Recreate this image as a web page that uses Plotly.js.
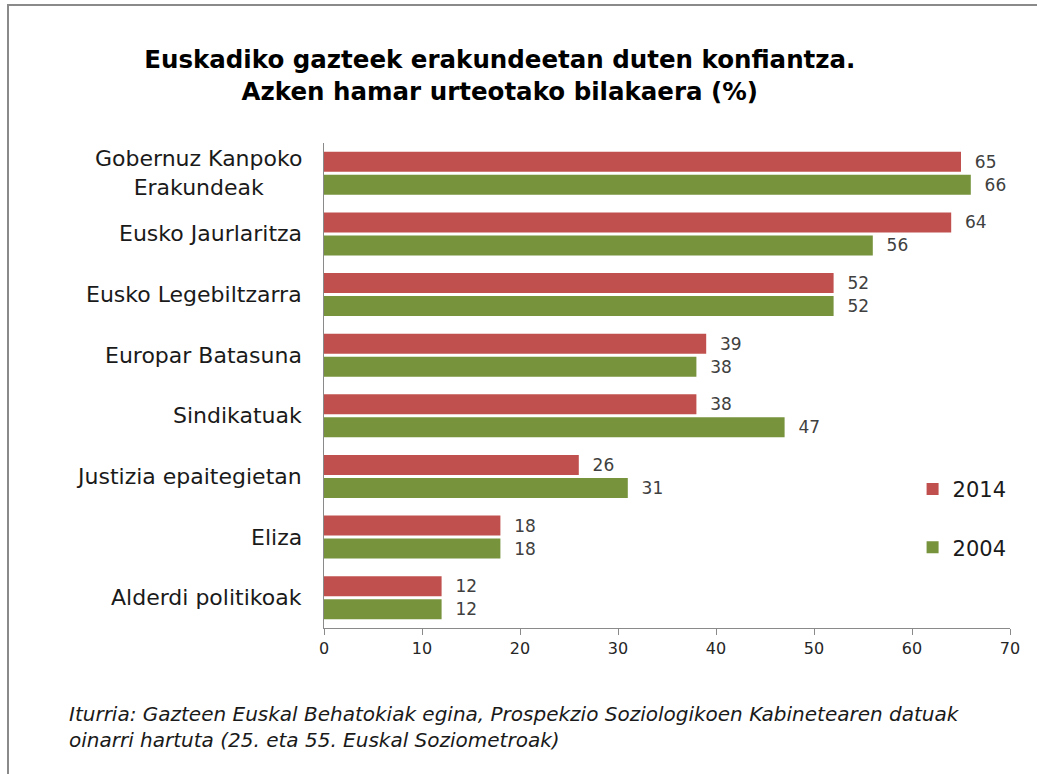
<!DOCTYPE html>
<html>
<head>
<meta charset="utf-8">
<script src="https://cdn.plot.ly/plotly-3.0.1.min.js"></script>
<style>
html,body{margin:0;padding:0;background:#fff;overflow:hidden;}
#chart{width:1037px;height:774px;position:absolute;left:0;top:0;}
#frame{position:absolute;left:7px;top:4px;width:1100px;height:900px;border-top:2px solid #8a8a8a;border-left:2px solid #8a8a8a;pointer-events:none;}
</style>
</head>
<body>
<div id="chart"></div>
<div id="frame"></div>
<script>
var categories = ["Gobernuz Kanpoko<br>Erakundeak","Eusko Jaurlaritza","Eusko Legebiltzarra","Europar Batasuna","Sindikatuak","Justizia epaitegietan","Eliza","Alderdi politikoak"];
var values2014 = [65, 64, 52, 39, 38, 26, 18, 12];
var values2004 = [66, 56, 52, 38, 47, 31, 18, 12];
var seriesNames = ["2014", "2004"];
var xTicks = [0, 10, 20, 30, 40, 50, 60, 70];

var FONT = "DejaVu Sans, Verdana, sans-serif";
var labelFont = {family: FONT, size: 17, color: "#404040"};

var traces = [
  {type: "bar", orientation: "h", name: seriesNames[0], y: categories, x: values2014,
   marker: {color: "#C0504D"}, text: values2014, texttemplate: "\u00a0\u00a0%{x}",
   textposition: "outside", textfont: labelFont, cliponaxis: false, legendgroup: "a",
   hoverinfo: "x+y"},
  {type: "bar", orientation: "h", name: seriesNames[1], y: categories, x: values2004,
   marker: {color: "#77933C"}, text: values2004, texttemplate: "\u00a0\u00a0%{x}",
   textposition: "outside", textfont: labelFont, cliponaxis: false, legendgroup: "b",
   hoverinfo: "x+y"}
];

var annotations = categories.map(function(c){
  return {xref: "paper", yref: "y", x: 0, y: c, text: c, showarrow: false,
          xanchor: "right", xshift: -20, align: "center",
          font: {family: FONT, size: 22, color: "#1a1a1a"}};
});
annotations.push({
  xref: "paper", yref: "paper", x: -0.375, y: -0.148, xanchor: "left", yanchor: "top",
  align: "left", showarrow: false,
  text: "<i>Iturria: Gazteen Euskal Behatokiak egina, Prospekzio Soziologikoen Kabinetearen datuak</i><br><i>oinarri hartuta (25. eta 55. Euskal Soziometroak)</i>",
  font: {family: FONT, size: 20, color: "#1a1a1a"}
});

var layout = {
  width: 1037, height: 774,
  margin: {l: 324, r: 27, t: 143, b: 146},
  paper_bgcolor: "#fff", plot_bgcolor: "#fff",
  barmode: "group", bargap: 0.24, bargroupgap: 0.13,
  showlegend: true,
  title: {
    text: "<b>Euskadiko gazteek erakundeetan duten konfiantza.</b><br><b>Azken hamar urteotako bilakaera (%)</b>",
    font: {family: FONT, size: 24.5, color: "#000"},
    xref: "container", x: 0.482, xanchor: "center",
    yref: "container", y: 1 - 68/774, yanchor: "top"
  },
  xaxis: {
    range: [0, 70], tickvals: xTicks, ticktext: xTicks.map(String),
    showgrid: false, zeroline: false, showline: true, linecolor: "#8a8a8a", linewidth: 1,
    ticks: "outside", ticklen: 6, tickcolor: "#8a8a8a",
    tickfont: {family: FONT, size: 16, color: "#262626"}, fixedrange: true
  },
  yaxis: {
    type: "category", autorange: "reversed", showticklabels: false,
    showgrid: false, zeroline: false, showline: true, linecolor: "#8a8a8a", linewidth: 1,
    ticks: "", fixedrange: true
  },
  legend: {
    x: 0.858, y: 0.328, xanchor: "left", yanchor: "top",
    traceorder: "grouped", tracegroupgap: 28,
    font: {family: FONT, size: 21, color: "#1a1a1a"}, bgcolor: "rgba(0,0,0,0)"
  },
  annotations: annotations
};

Plotly.newPlot("chart", traces, layout, {displayModeBar: false, staticPlot: true});
</script>
</body>
</html>
